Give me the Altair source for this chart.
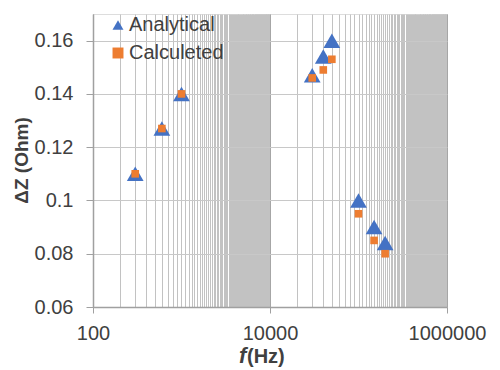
import altair as alt
import pandas as pd

# ---- data ----
freq = [300, 600, 1000, 30000, 40000, 50000, 100000, 150000, 200000]
analytical = [0.110, 0.127, 0.140, 0.147, 0.154, 0.160, 0.100, 0.090, 0.084]
calculeted = [0.110, 0.127, 0.140, 0.146, 0.149, 0.153, 0.095, 0.085, 0.080]
series = ["Analytical", "Calculeted"]
x_major = [100, 10000, 1000000]
y_ticks = [0.06, 0.08, 0.10, 0.12, 0.14, 0.16]
y_title = "ΔZ (Ohm)"
x_title_f = "f"
x_title_unit = "(Hz)"

df = pd.DataFrame({
    "f": freq + freq,
    "dz": analytical + calculeted,
    "series": [series[0]] * len(freq) + [series[1]] * len(freq),
})

# log axis gridlines: Excel-style minor lines at every multiple of each major unit
grid_vals = sorted(set([m * k for m in x_major[:-1] for k in range(1, 100)] + [x_major[-1]]))

FONT = "Liberation Sans"
TXT = "#404040"
major_test = "datum.value == 100 || datum.value == 10000 || datum.value == 1000000"

x_scale = alt.Scale(type="log", domain=[100, 1000000], nice=False)
y_scale = alt.Scale(domain=[0.06, 0.17], nice=False, zero=False)
color_scale = alt.Scale(domain=series, range=["#4472C4", "#ED7D31"])
shape_scale = alt.Scale(domain=series, range=["triangle-up", "square"])

x_axis = alt.Axis(
    values=grid_vals,
    title=None,
    labelExpr=f"({major_test}) ? format(datum.value, 'd') : ''",
    labelOverlap=False,
    labelFlush=False,
    labelFontSize=20,
    labelColor=TXT,
    labelFont=FONT,
    labelPadding=10,
    tickSize=6,
    tickColor="#a0a0a0",
    tickOpacity={"condition": {"test": major_test, "value": 1}, "value": 0},
    gridColor={"condition": {"test": major_test, "value": "#a6a6a6"}, "value": "#c2c2c2"},
    gridWidth=1,
    domainColor="#a0a0a0",
    domainWidth=1.5,
)

y_axis = alt.Axis(
    values=y_ticks,
    format="~g",
    title=y_title,
    titleFont=FONT,
    titleFontSize=19,
    titleFontWeight="bold",
    titleColor=TXT,
    titleAngle=270,
    titleX=-62,
    titleY=146,
    titleAlign="center",
    titleBaseline="bottom",
    labelFontSize=20,
    labelColor=TXT,
    labelFont=FONT,
    labelPadding=13,
    tickSize=7,
    tickColor="#a0a0a0",
    gridColor="#c8c8c8",
    domainColor="#a0a0a0",
    domainWidth=1.5,
)

legend = alt.Legend(
    title=None,
    orient="none",
    legendX=15,
    legendY=1,
    padding=0,
    labelFontSize=20,
    labelFont=FONT,
    labelColor=TXT,
    symbolSize=120,
    symbolOpacity=1,
    symbolStrokeWidth=0,
    rowPadding=8,
    labelOffset=1,
)

base = alt.Chart(df).encode(
    x=alt.X("f:Q", scale=x_scale, axis=x_axis),
    y=alt.Y("dz:Q", scale=y_scale, axis=y_axis),
    color=alt.Color("series:N", scale=color_scale, legend=legend),
    shape=alt.Shape("series:N", scale=shape_scale, legend=legend),
)

tri = base.transform_filter(alt.datum.series == series[0]).mark_point(
    filled=True, size=280, opacity=1, strokeWidth=0
)
sq = base.transform_filter(alt.datum.series == series[1]).mark_point(
    filled=True, size=58, opacity=1, strokeWidth=0
)

t_f = alt.Chart(pd.DataFrame({"t": [x_title_f]})).mark_text(
    font=FONT, fontSize=22, fontWeight="bold", fontStyle="italic",
    color=TXT, align="left", baseline="alphabetic",
).encode(x=alt.value(146), y=alt.value(349), text="t:N")

t_unit = alt.Chart(pd.DataFrame({"t": [x_title_unit]})).mark_text(
    font=FONT, fontSize=20, fontWeight="bold",
    color=TXT, align="left", baseline="alphabetic",
).encode(x=alt.value(154), y=alt.value(349), text="t:N")

chart = alt.layer(tri, sq, t_f, t_unit).properties(
    width=354,
    height=293,
    autosize=alt.AutoSizeParams(type="none"),
    padding={"left": 85, "top": 6, "right": 40, "bottom": 70},
).configure_view(stroke=None).configure(font=FONT)

chart.save("out.html", embed_options={"renderer": "svg", "actions": False})
